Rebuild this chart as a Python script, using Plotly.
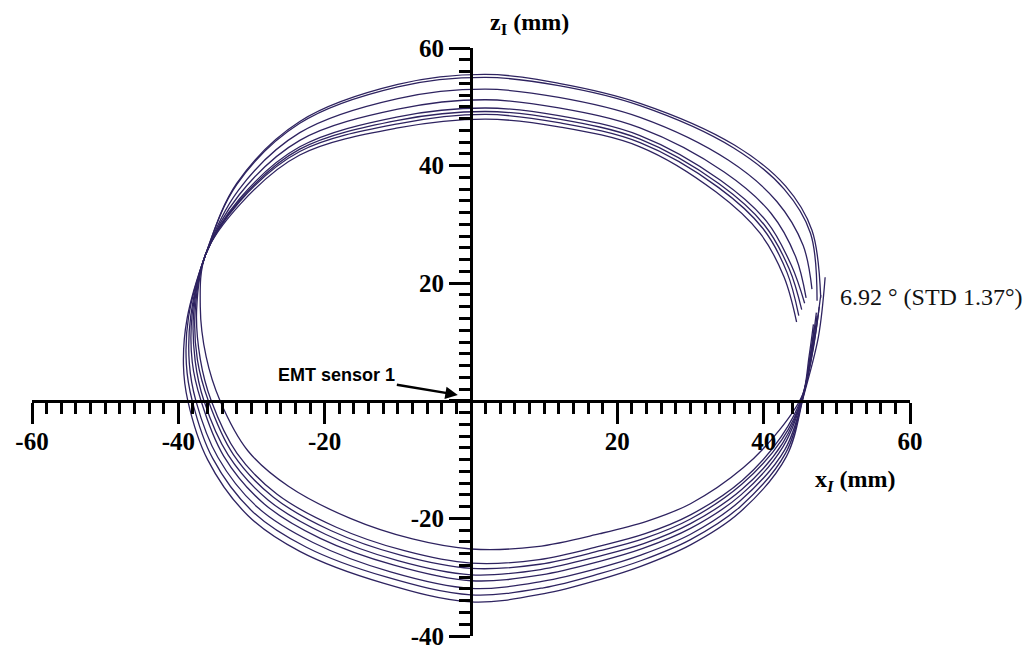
import plotly.graph_objects as go

# ---- data: loops of the EMT sensor trajectory (x_I, z_I in mm) ----
loop1_x = [47.8, 46.6, 43, 36, 23.1, 12, 2, -10, -23.4, -32, -36.3, -38.8, -39.3, -38.7, -36, -30.5, -23.4, -12, 0, 10, 17.6, 23.1, 30, 36.7, 43.1, 45.5, 47.5, 48.4]
loop1_z = [17.5, 29, 36.5, 43.5, 50.6, 54, 55.5, 53.8, 47.5, 37, 24.8, 14, 6, 0, -10, -19.5, -25.6, -31, -34.2, -32.8, -30.4, -28.2, -24.5, -19, -9.5, 1, 11, 21]

loop2_x = [47.3, 46.4, 42.8, 35.9, 23.1, 12, 2, -10, -23.4, -32, -36.3, -38.6, -38.9, -38.1, -35.3, -29.8, -22.5, -11.5, 0, 9.9, 17.6, 23.2, 30, 36.8, 43.0, 45.5, 46.8, 47.6]
loop2_z = [17.0, 28.5, 36.0, 43.0, 50.2, 53.6, 55.0, 53.4, 47.2, 36.8, 24.8, 14.3, 6.2, 0, -9.8, -18.9, -24.9, -30.0, -33.0, -31.8, -29.4, -27.2, -23.6, -18.0, -8.9, 1.2, 9, 16]

loop3_x = [46.6, 45.4, 41.8, 35.2, 23.1, 12, 2, -10, -23.4, -31.8, -36.3, -38.3, -38.5, -37.6, -34.6, -29.1, -21.6, -11.0, 0, 9.7, 17.6, 23.3, 30, 36.8, 42.9, 45.4, 46.6, 47.3]
loop3_z = [19.0, 26.4, 33.9, 40.9, 48.2, 51.6, 53.0, 51.4, 45.6, 35.8, 24.8, 14.5, 6.4, 0, -9.6, -18.2, -24.1, -29.1, -31.9, -30.7, -28.4, -26.2, -22.7, -17.0, -8.3, 0.8, 8.5, 14.5]

loop4_x = [45.8, 44.4, 41.0, 34.6, 23.1, 12, 2, -10, -23.4, -31.7, -36.3, -38.1, -38.1, -36.9, -33.8, -28.3, -20.6, -10.4, 0, 9.6, 17.6, 23.5, 30, 36.9, 42.7, 45.5, 46.9, 47.8]
loop4_z = [17.5, 24.4, 31.9, 38.9, 46.4, 49.8, 51.2, 49.6, 44.3, 35.0, 24.8, 14.8, 6.6, 0, -9.4, -17.5, -23.4, -28.0, -30.6, -29.6, -27.3, -25.1, -21.7, -16.0, -7.7, 1.4, 10, 18]

loop5_x = [45.6, 43.8, 40.4, 34.1, 23.1, 12, 2, -10, -23.4, -31.6, -36.3, -37.9, -37.7, -36.5, -33.2, -27.7, -19.9, -10.0, 0, 9.5, 17.6, 23.6, 30, 37.0, 42.6, 45.4, 46.4, 46.9]
loop5_z = [16.6, 23.0, 30.5, 37.5, 45.1, 48.5, 49.8, 48.3, 43.2, 34.4, 24.8, 15.0, 6.8, 0, -9.2, -16.9, -22.7, -27.2, -29.6, -28.7, -26.4, -24.3, -20.9, -15.1, -7.2, 1.0, 8, 12.5]

loop6_x = [45.2, 43.5, 40.1, 33.9, 23.1, 12, 2, -10, -23.4, -31.6, -36.3, -37.7, -37.4, -35.9, -32.5, -27.0, -19.1, -9.5, 0, 9.4, 17.6, 23.7, 30, 37.0, 42.5, 45.3, 46.2, 46.8]
loop6_z = [15.5, 22.4, 29.9, 36.9, 44.5, 47.9, 49.2, 47.7, 42.8, 34.1, 24.8, 15.3, 7.0, 0, -9.1, -16.4, -22.1, -26.3, -28.5, -27.8, -25.5, -23.4, -20.1, -14.2, -6.6, 0.6, 7.5, 13]

loop7_x = [44.8, 43.2, 39.9, 33.8, 23.1, 12, 2, -10, -23.4, -31.6, -36.3, -37.5, -37.0, -35.5, -32.0, -26.5, -18.4, -9.1, 0, 9.3, 17.6, 23.8, 30, 37.1, 42.4, 45.4, 46.5, 47.2]
loop7_z = [14.5, 21.8, 29.3, 36.3, 43.9, 47.3, 48.7, 47.1, 42.4, 33.9, 24.8, 15.5, 7.1, 0, -8.9, -15.9, -21.5, -25.5, -27.6, -27.0, -24.7, -22.6, -19.4, -13.5, -6.1, 1.2, 8.5, 15]

loop8_x = [44.5, 42.8, 39.5, 33.5, 23.1, 12, 2, -10, -23.4, -31.5, -36.3, -37, -36.2, -34.3, -30.5, -25, -16.5, -8, 0, 9, 17.6, 24, 30, 37.2, 42.2, 45.3, 46.4, 46.9]
loop8_z = [13.4, 21, 28.5, 35.5, 43.2, 46.6, 47.9, 46.4, 41.8, 33.5, 24.8, 16, 7.5, 0, -8.5, -14.5, -20, -23.5, -25.2, -24.8, -22.6, -20.5, -17.5, -11.4, -4.9, 1, 7.5, 11]

major_ticks_x = [-60, -40, -20, 0, 20, 40, 60]
major_labels_x = ['-60', '-40', '-20', '', '20', '40', '60']
major_ticks_z = [-40, -20, 0, 20, 40, 60]
major_labels_z = ['-40', '-20', '', '20', '40', '60']

x_range = [-60, 60]
z_range = [-40, 60]

loops = [(loop1_x, loop1_z), (loop2_x, loop2_z), (loop3_x, loop3_z), (loop4_x, loop4_z),
         (loop5_x, loop5_z), (loop6_x, loop6_z), (loop7_x, loop7_z), (loop8_x, loop8_z)]

LINE_COLOR = '#2e2360'
SERIF = 'Liberation Serif'

fig = go.Figure()
for lx, lz in loops:
    fig.add_trace(go.Scatter(x=lx, y=lz, mode='lines',
                             line=dict(color=LINE_COLOR, width=1.3, shape='spline', smoothing=1.0),
                             hoverinfo='skip', showlegend=False))

# axis crossing positions in paper coordinates
x_axis_pos = (0 - z_range[0]) / (z_range[1] - z_range[0])
y_axis_pos = (0 - x_range[0]) / (x_range[1] - x_range[0])

tick_font = dict(family=SERIF, size=25, color='black', weight='bold')

fig.update_xaxes(range=x_range, anchor='free', position=x_axis_pos, side='bottom',
                 showline=True, linewidth=3, linecolor='black', mirror=False,
                 showgrid=False, zeroline=False,
                 tickmode='array', tickvals=major_ticks_x, ticktext=major_labels_x,
                 ticks='outside', ticklen=21, tickwidth=3, tickcolor='black',
                 ticklabelstandoff=-4, ticklabeloverflow='allow',
                 minor=dict(tickmode='linear', tick0=0, dtick=2, ticks='outside',
                            ticklen=11, tickwidth=2.5, tickcolor='black', showgrid=False),
                 tickfont=tick_font, automargin=False)

fig.update_yaxes(range=z_range, anchor='free', position=y_axis_pos, side='left',
                 showline=True, linewidth=3, linecolor='black', mirror=False,
                 showgrid=False, zeroline=False,
                 tickmode='array', tickvals=major_ticks_z, ticktext=major_labels_z,
                 ticks='outside', ticklen=21, tickwidth=3, tickcolor='black',
                 ticklabeloverflow='allow',
                 minor=dict(tickmode='linear', tick0=0, dtick=2, ticks='outside',
                            ticklen=11, tickwidth=2.5, tickcolor='black', showgrid=False),
                 tickfont=tick_font, automargin=False)

annotations = [
    dict(x=52.5, y=-13.7, xref='x', yref='y', showarrow=False,
         text='<b>x<sub><i>I</i></sub> (mm)</b>',
         font=dict(family=SERIF, size=24, color='black')),
    dict(x=0.567, y=1.04, xref='paper', yref='paper', showarrow=False,
         xanchor='center', yanchor='middle',
         text='<b>z<sub>I</sub> (mm)</b>',
         font=dict(family=SERIF, size=24, color='black')),
    dict(x=50.1, y=17.7, xref='x', yref='y', showarrow=False, xanchor='left',
         text='6.92 ° (STD 1.37°)',
         font=dict(family=SERIF, size=24, color='#111111')),
    dict(x=-1.8, y=1.0, xref='x', yref='y', ax=-121, ay=-20,
         showarrow=True, arrowhead=2, arrowsize=1, arrowwidth=2.5, arrowcolor='black',
         text='<b>EMT sensor 1</b>',
         font=dict(family='Liberation Sans', size=18, color='black')),
]

# the page body adds an 8 px offset, so the figure is sized to end at the window edge
fig.update_layout(width=1026, height=640,
                  margin=dict(l=24, r=124, t=40, b=12, pad=0),
                  plot_bgcolor='white', paper_bgcolor='white',
                  showlegend=False, annotations=annotations)

fig.write_html('out.html')
